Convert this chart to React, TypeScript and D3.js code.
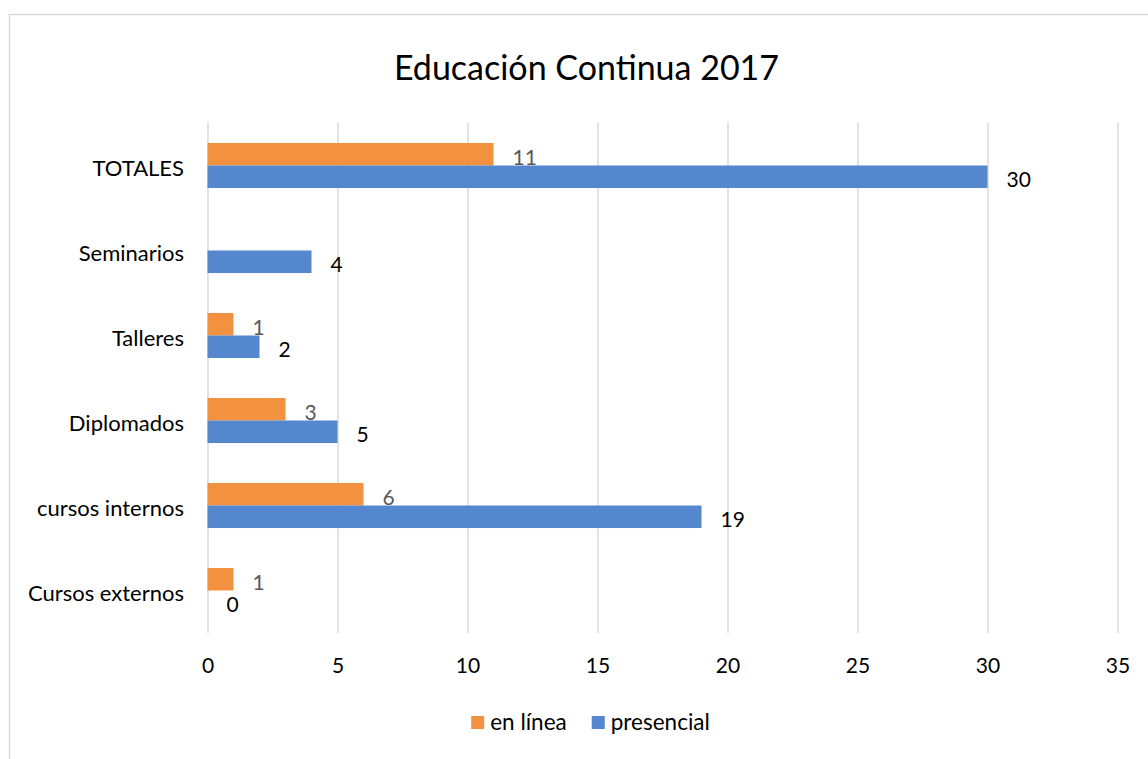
import React, { useEffect, useRef } from "react";
import * as d3 from "d3";

const title = "Educación Continua 2017";
const categories = [
  "Cursos externos",
  "cursos internos",
  "Diplomados",
  "Talleres",
  "Seminarios",
  "TOTALES",
];
const seriesNames = ["en línea", "presencial"];
const enLinea: (number | null)[] = [1, 6, 3, 1, null, 11];
const presencial: (number | null)[] = [0, 19, 5, 2, 4, 30];
const xTicks = [0, 5, 10, 15, 20, 25, 30, 35];

const colors = ["#F29140", "#5587CF"];
const labelColors = ["#595959", "#000000"];
const FONT = "Lato, 'Liberation Sans', sans-serif";

const App = () => {
  const svgRef = useRef<SVGSVGElement | null>(null);
  const width = 1148;
  const height = 759;

  useEffect(() => {
    const svg = d3.select(svgRef.current);
    svg.selectAll("*").remove();

    // chart frame (runs off the right and bottom edge)
    svg
      .append("rect")
      .attr("x", 9.5)
      .attr("y", 14.5)
      .attr("width", 1200)
      .attr("height", 800)
      .attr("fill", "#fff")
      .attr("stroke", "#d9d9d9")
      .attr("stroke-width", 1.5);

    const plot = { left: 207.5, right: 1117.5, top: 123, bottom: 633 };

    const x = d3.scaleLinear().domain([0, 35]).range([plot.left, plot.right]);

    const y = d3
      .scaleBand<string>()
      .domain(categories.slice().reverse())
      .range([plot.top, plot.bottom])
      .paddingInner(0.47)
      .paddingOuter(0.235);

    const ySub = d3
      .scaleBand<string>()
      .domain(seriesNames)
      .range([0, y.bandwidth()]);

    // title
    svg
      .append("text")
      .attr("x", 586.5)
      .attr("y", 80)
      .attr("text-anchor", "middle")
      .attr("font-family", FONT)
      .attr("font-size", 34)
      .attr("fill", "#000")
      .text(title);

    // gridlines
    const xAxis = d3
      .axisBottom(x)
      .tickValues(xTicks)
      .tickSize(-(plot.bottom - plot.top))
      .tickPadding(24)
      .tickFormat(d3.format("d"));

    const xAxisG = svg
      .append("g")
      .attr("transform", `translate(0,${plot.bottom})`)
      .call(xAxis);
    xAxisG.select(".domain").remove();
    xAxisG
      .selectAll(".tick line")
      .attr("stroke", "#d9d9d9")
      .attr("stroke-width", 1.5);
    xAxisG
      .selectAll(".tick text")
      .attr("font-family", FONT)
      .attr("font-size", 21)
      .attr("fill", "#000")
      .attr("dy", null)
      .attr("y", 40);

    // category labels
    svg
      .append("g")
      .selectAll("text")
      .data(categories)
      .enter()
      .append("text")
      .attr("x", 184)
      .attr("y", (d) => (y(d) as number) + y.bandwidth() / 2 + 10)
      .attr("text-anchor", "end")
      .attr("font-family", FONT)
      .attr("font-size", 22)
      .attr("fill", "#000")
      .text((d) => d);

    const series = [enLinea, presencial];
    series.forEach((values, si) => {
      const rows = categories
        .map((c, i) => ({ c, v: values[i] }))
        .filter((d) => d.v !== null) as { c: string; v: number }[];

      const g = svg.append("g");
      g.selectAll("rect")
        .data(rows)
        .enter()
        .append("rect")
        .attr("x", x(0))
        .attr("y", (d) => (y(d.c) as number) + (ySub(seriesNames[si]) as number))
        .attr("width", (d) => x(d.v) - x(0))
        .attr("height", ySub.bandwidth())
        .attr("fill", colors[si]);

      g.selectAll("text")
        .data(rows)
        .enter()
        .append("text")
        .attr("x", (d) => x(d.v) + 19)
        .attr(
          "y",
          (d) =>
            (y(d.c) as number) +
            (ySub(seriesNames[si]) as number) +
            ySub.bandwidth() / 2 +
            10.5
        )
        .attr("font-family", FONT)
        .attr("font-size", 21)
        .attr("fill", labelColors[si])
        .text((d) => d.v);
    });

    // legend
    const legend = svg.append("g");
    let lx = 473;
    seriesNames.forEach((name, si) => {
      legend
        .append("rect")
        .attr("x", lx)
        .attr("y", 716)
        .attr("width", 13)
        .attr("height", 13)
        .attr("fill", colors[si]);
      const t = legend
        .append("text")
        .attr("x", lx + 19)
        .attr("y", 730)
        .attr("font-family", FONT)
        .attr("font-size", 22.5)
        .attr("fill", "#000")
        .text(name);
      const w = (t.node() as SVGTextElement).getComputedTextLength();
      lx += 19 + w + 25;
    });
    // recentre legend
    const total = lx - 25 - 473;
    legend.attr("transform", `translate(${590.5 - total / 2 - 473},0)`);
  }, []);

  return (
    <svg
      ref={svgRef}
      width={width}
      height={height}
      style={{ position: "absolute", left: 0, top: 0 }}
    />
  );
};

export default App;
